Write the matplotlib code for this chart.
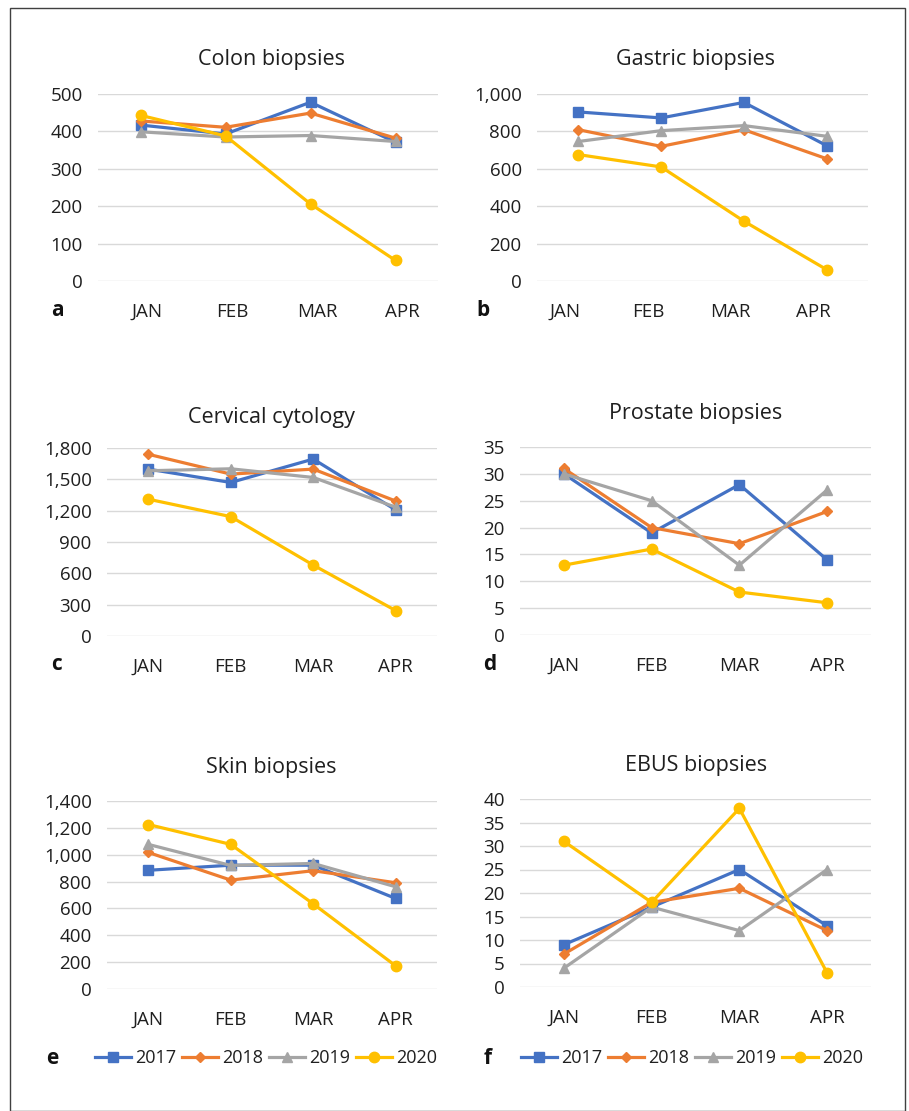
import matplotlib
matplotlib.use("Agg")
import matplotlib.pyplot as plt
import matplotlib.transforms as mtransforms
from matplotlib.patches import Rectangle

plt.rcParams['font.family'] = ['Open Sans', 'DejaVu Sans']

# === DATA ===
months = ["JAN", "FEB", "MAR", "APR"]
years = ["2017", "2018", "2019", "2020"]

colon = {
    "2017": [417, 393, 478, 371],
    "2018": [428, 411, 449, 382],
    "2019": [399, 385, 389, 373],
    "2020": [443, 388, 206, 55],
}
gastric = {
    "2017": [904, 872, 955, 724],
    "2018": [809, 720, 809, 654],
    "2019": [746, 804, 831, 774],
    "2020": [676, 610, 320, 61],
}
cervical = {
    "2017": [1598, 1470, 1694, 1207],
    "2018": [1740, 1550, 1598, 1292],
    "2019": [1582, 1601, 1518, 1233],
    "2020": [1310, 1143, 679, 243],
}
prostate = {
    "2017": [30, 19, 28, 14],
    "2018": [31, 20, 17, 23],
    "2019": [30, 25, 13, 27],
    "2020": [13, 16, 8, 6],
}
skin = {
    "2017": [884, 922, 922, 674],
    "2018": [1017, 811, 881, 791],
    "2019": [1077, 920, 935, 761],
    "2020": [1225, 1077, 634, 172],
}
ebus = {
    "2017": [9, 17, 25, 13],
    "2018": [7, 18, 21, 12],
    "2019": [4, 17, 12, 25],
    "2020": [31, 18, 38, 3],
}

# === STYLE ===
W, H = 909, 1111
colors = {"2017": "#4472C4", "2018": "#ED7D31", "2019": "#A5A5A5", "2020": "#FFC000"}
markers = {"2017": "s", "2018": "D", "2019": "^", "2020": "o"}
msizes = {"2017": 7, "2018": 5, "2019": 7, "2020": 7.5}
TXT = "#1f1f1f"

# panel: (data, title, letter, yticks, plot box px (x0, x1, ytop, ybot), title pos, label dx, letter pos)
panels = [
    (colon, "Colon biopsies", "a", [0, 100, 200, 300, 400, 500],
     (98, 438, 94, 281), (271, 60), 7, (57, 311)),
    (gastric, "Gastric biopsies", "b", [0, 200, 400, 600, 800, 1000],
     (537, 868, 94, 281), (696, 60), -13, (483, 311)),
    (cervical, "Cervical cytology", "c", [0, 300, 600, 900, 1200, 1500, 1800],
     (107, 437, 448, 636), (271, 417), 0, (57, 665)),
    (prostate, "Prostate biopsies", "d", [0, 5, 10, 15, 20, 25, 30, 35],
     (520, 871, 447, 635), (696, 414), 0, (490, 665)),
    (skin, "Skin biopsies", "e", [0, 200, 400, 600, 800, 1000, 1200, 1400],
     (107, 437, 801, 989), (271, 768), 0, (52, 1058)),
    (ebus, "EBUS biopsies", "f", [0, 5, 10, 15, 20, 25, 30, 35, 40],
     (520, 871, 799, 987), (696, 766), 0, (488, 1058)),
]

fig = plt.figure(figsize=(W / 100, H / 100), dpi=100)

# outer frame
fig.patches.append(Rectangle((10 / W, 0), 895 / W, 1 - 8 / H, transform=fig.transFigure,
                             fill=False, edgecolor="#404040", linewidth=1.0))

for data, title, letter, yticks, box, tpos, dx, lpos in panels:
    x0, x1, yt, yb = box
    ax = fig.add_axes([x0 / W, 1 - yb / H, (x1 - x0) / W, (yb - yt) / H])
    for y in years:
        ax.plot(range(len(months)), data[y], color=colors[y], linewidth=2.3,
                marker=markers[y], markersize=msizes[y], label=y, zorder=3)
    ax.set_xlim(-0.5, len(months) - 0.5)
    ax.set_ylim(yticks[0], yticks[-1])
    ax.set_yticks(yticks)
    ax.set_yticklabels([f"{v:,}" for v in yticks])
    ax.set_xticks(range(len(months)))
    ax.set_xticklabels(months)
    ax.grid(axis="y", color="#D9D9D9", linewidth=1.0, zorder=0)
    ax.set_axisbelow(True)
    for s in ax.spines.values():
        s.set_visible(False)
    ax.tick_params(axis="both", length=0, labelsize=13.5, colors=TXT)
    ax.tick_params(axis="y", pad=11)
    ax.tick_params(axis="x", pad=16)
    if dx:
        offset = mtransforms.ScaledTranslation(dx / 100, 0, fig.dpi_scale_trans)
        for lab in ax.get_xticklabels():
            lab.set_transform(lab.get_transform() + offset)

    fig.text(tpos[0] / W, 1 - tpos[1] / H, title, ha="center", va="center",
             fontsize=15.5, color=TXT)
    fig.text(lpos[0] / W, 1 - lpos[1] / H, letter, ha="center", va="center",
             fontsize=15, fontweight="bold", color="#111111")

    if letter in ("e", "f"):
        cx = 266 if letter == "e" else 692
        ax.legend(loc="center", bbox_to_anchor=(cx / W, 1 - 1058 / H),
                  bbox_transform=fig.transFigure, ncol=4, frameon=False,
                  fontsize=13, handlelength=2.0, handletextpad=0.25,
                  columnspacing=0.3, borderaxespad=0, labelcolor=TXT)

fig.savefig("out.png", dpi=100)
